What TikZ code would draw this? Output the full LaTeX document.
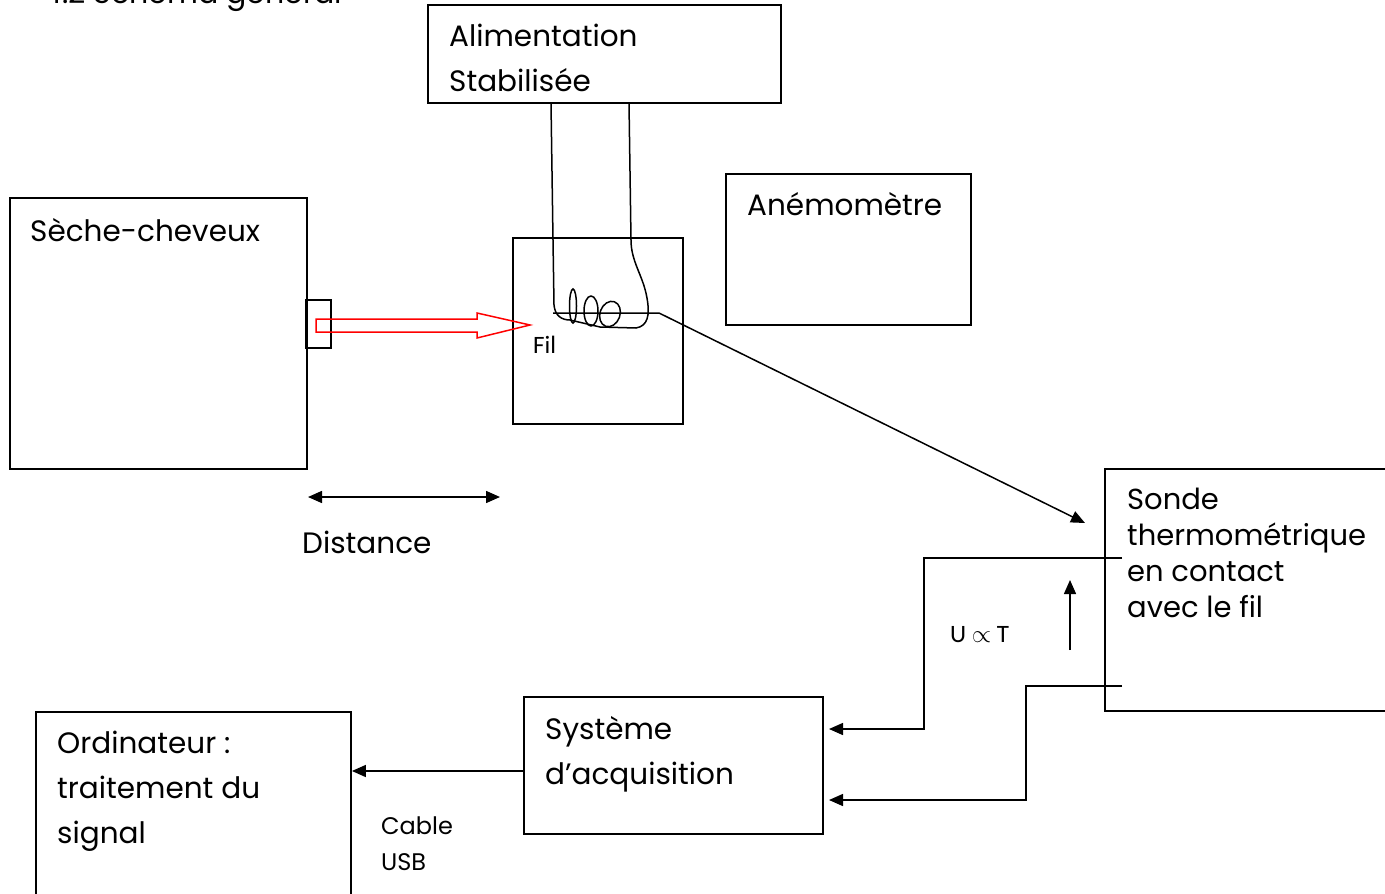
\documentclass[tikz,border=0pt]{standalone}
\usepackage{fontspec}
\setmainfont{Poppins}
\newfontfamily\calfont{Carlito}
\usetikzlibrary{arrows.meta}

\begin{document}
\begin{tikzpicture}[x=1pt,y=-1pt]
        \tikzstyle{box} = [draw, line width=1.8, inner sep=0]
        \tikzstyle{txt} = [anchor=north west, inner sep=0, align=left, font=\fontsize{29.5}{45}\selectfont]
        \tikzstyle{small} = [anchor=base west, inner sep=0, font=\calfont\fontsize{25}{30}\selectfont]
        \tikzstyle{link} = [line width=1.5]
        \tikzstyle{tip} = [-{Triangle[length=14,width=12]}]

        \useasboundingbox (0,0) rectangle (1385,894);
        \clip (0,0) rectangle (1385,894);

        % Titre
        \node[anchor=base west, inner sep=0, font=\fontsize{30}{36}\selectfont] (titre) at (43,3) {4.2 Schéma général};

        % Blocs
        \node[box, minimum width=353, minimum height=98] (alim) at (604.5,54) {};
        \node[box, minimum width=297, minimum height=271] (seche) at (158.5,333.5) {};
        \node[box, minimum width=25, minimum height=48] (buse) at (318.5,324) {};
        \node[box, minimum width=170, minimum height=186] (fil) at (598,331) {};
        \node[box, minimum width=245, minimum height=151] (anemo) at (848.5,249.5) {};
        \node[box, minimum width=320, minimum height=242] (sonde) at (1265,590) {};
        \node[box, minimum width=299, minimum height=137] (acq) at (673.5,765.5) {};
        \node[box, minimum width=315, minimum height=220] (ordi) at (193.5,822) {};

        % Textes des blocs
        \node[txt] (alimtxt) at (449,24) {Alimentation\\Stabilisée};
        \node[txt] (sechetxt) at (30,218) {Sèche-cheveux};
        \node[txt] (anemotxt) at (747,192) {Anémomètre};
        \node[txt, font=\fontsize{29}{36}\selectfont] (sondetxt) at (1127,488) {Sonde\\thermométrique\\en contact\\avec le fil};
        \node[txt] (acqtxt) at (545,716) {Système\\d’acquisition};
        \node[txt] (orditxt) at (57,731) {Ordinateur :\\traitement du\\signal};

        % Etiquettes
        \node[small] (filtxt) at (533,353) {Fil};
        \node[small] (uttxt) at (950,642) {U $\propto$ T};
        \node[txt, font=\fontsize{24}{36}\selectfont] (cable) at (381,817) {Cable\\USB};
        \node[txt] (dist) at (302,531) {Distance};

        % Souffle du seche-cheveux
        \draw[red, line width=1.5] (316,319) -- (477,319) -- (477,313) -- (530,325)
            -- (477,338) -- (477,332) -- (316,332) -- cycle;

        % Fils d'alimentation et enroulement
        \coordinate (a1) at (551,103);
        \coordinate (a2) at (629,103);
        \draw[link] (a1) -- (553,240) -- (554,305) .. controls (555,316) and (562,320) .. (570,320)
            -- (600,327) -- (636,328) .. controls (648,326) and (650,315) .. (647,298)
            .. controls (643,275) and (631,262) .. (631,240) -- (a2);
        \draw[link] (573,306) ellipse [x radius=3.5, y radius=17];
        \draw[link] (591,311) ellipse [x radius=7, y radius=15];
        \draw[link, rotate around={-20:(610,314)}] (610,314) ellipse [x radius=10, y radius=13];

        % Liaison fil -> sonde
        \coordinate (f1) at (553,313);
        \coordinate (f2) at (659,313);
        \coordinate (s0) at (1085,523);
        \draw[link, tip] (f1) -- (f2) -- (s0);

        % Liaisons sonde -> acquisition
        \coordinate (s1) at (1122,558);
        \coordinate (s2) at (1122,686);
        \coordinate (e1) at (829,729);
        \coordinate (e2) at (829,800);
        \draw[link, tip] (s1) -- (924,558) -- (924,729) -- (e1);
        \draw[link, tip] (s2) -- (1026,686) -- (1026,800) -- (e2);
        \coordinate (u1) at (1070,650);
        \coordinate (u2) at (1070,580);
        \draw[link, tip] (u1) -- (u2);

        % Liaison acquisition -> ordinateur
        \draw[link, tip] (acq.west |- 0,771) -- (ordi.east |- 0,771);

        % Distance
        \coordinate (d1) at (308,497);
        \coordinate (d2) at (500,497);
        \draw[link, {Triangle[length=14,width=12]}-{Triangle[length=14,width=12]}] (d1) -- (d2);
\end{tikzpicture}
\end{document}
